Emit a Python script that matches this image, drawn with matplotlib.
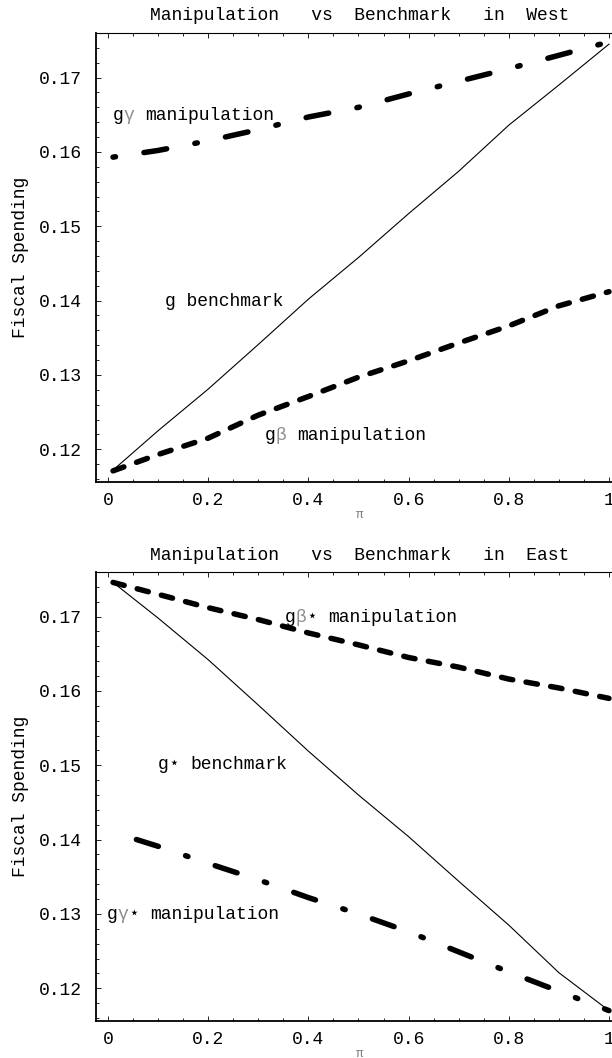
import matplotlib
matplotlib.use("Agg")
import matplotlib.pyplot as plt
from matplotlib.ticker import MultipleLocator

plt.rcParams['font.family'] = ['Liberation Mono', 'DejaVu Sans Mono', 'DejaVu Sans']
plt.rcParams['font.size'] = 13
plt.rcParams['lines.scale_dashes'] = False

FS = 13
PX = 0.72  # points per pixel at dpi 100

# pi values where the curves were read
pi_vals = [0.01, 0.1, 0.2, 0.3, 0.4, 0.5, 0.6, 0.7, 0.8, 0.9, 1.0]

# West
g_bench_w = [0.1172, 0.1225, 0.1281, 0.1341, 0.1402, 0.1458, 0.1517, 0.1574, 0.1636, 0.1690, 0.1745]
g_gamma_w = [0.1593, 0.1602, 0.1615, 0.1630, 0.1647, 0.1660, 0.1678, 0.1695, 0.1712, 0.1730, 0.1748]
g_beta_w = [0.1171, 0.1193, 0.1215, 0.1246, 0.1271, 0.1297, 0.1319, 0.1343, 0.1366, 0.1393, 0.1412]

# East
g_bench_e = [0.1746, 0.1698, 0.1642, 0.1581, 0.1519, 0.1460, 0.1404, 0.1344, 0.1285, 0.1221, 0.1170]
g_gamma_e = [0.1410, 0.1391, 0.1368, 0.1346, 0.1322, 0.1300, 0.1276, 0.1249, 0.1222, 0.1196, 0.1170]
g_beta_e = [0.1746, 0.1730, 0.1712, 0.1696, 0.1678, 0.1662, 0.1645, 0.1632, 0.1616, 0.1604, 0.1590]

titles = ['Manipulation   vs  Benchmark   in  West',
          'Manipulation   vs  Benchmark   in  East']

# text, x, y, {char index: colour}
labels_w = [('gγ manipulation', 0.01, 0.1649, {1: '0.55'}),
            ('g benchmark', 0.114, 0.1399, {}),
            ('gβ manipulation', 0.313, 0.1219, {1: '0.55'})]
labels_e = [('gβ⋆ manipulation', 0.353, 0.1699, {1: '0.55', 2: 'black'}),
            ('g⋆ benchmark', 0.100, 0.1502, {1: 'black'}),
            ('gγ⋆ manipulation', -0.003, 0.1300, {1: '0.55', 2: 'black'})]

LW = 5.5 * PX
dash_on, dot_on, gap = 23 * PX, 2.5 * PX, 28.75 * PX
gamma_w_style = (0, (dot_on, gap, dash_on, gap))
gamma_e_style = (58.5 * PX, (dash_on, gap, dot_on, gap))
beta_style = (0, (11.5 * PX, 13.5 * PX))


def put_label(ax, x, y, text, special):
    # monospaced font: every run of plain chars and every special char
    # is drawn on its own, shifted by whole character cells
    runs = []
    i = 0
    while i < len(text):
        if i in special:
            runs.append((i, text[i], special[i]))
            i += 1
        else:
            j = i
            while j < len(text) and j not in special:
                j += 1
            runs.append((i, text[i:j], 'black'))
            i = j
    for start, chunk, col in runs:
        lead = len(chunk) - len(chunk.lstrip(' '))
        chunk = chunk.strip(' ')
        if not chunk:
            continue
        ax.annotate(chunk, (x, y), xytext=((start + lead) * 0.6 * FS, -3.4),
                    textcoords='offset points', va='baseline', ha='left',
                    color=col)


def style_axes(ax, title):
    ax.set_xlim(-0.024, 1.03)
    ax.set_ylim(0.1156, 0.1760)
    ax.xaxis.set_major_locator(MultipleLocator(0.2))
    ax.xaxis.set_minor_locator(MultipleLocator(0.05))
    ax.yaxis.set_major_locator(MultipleLocator(0.01))
    ax.yaxis.set_minor_locator(MultipleLocator(0.002))
    ax.set_xticks([0, 0.2, 0.4, 0.6, 0.8, 1.0])
    ax.set_xticklabels(['0', '0.2', '0.4', '0.6', '0.8', '1'])
    ax.tick_params(which='both', direction='in', top=True, right=True, width=0.6)
    ax.tick_params(which='major', length=3.6)
    ax.tick_params(which='minor', length=2.2)
    ax.tick_params(axis='x', pad=7)
    ax.tick_params(axis='y', pad=10)
    for s in ['left', 'bottom']:
        ax.spines[s].set_linewidth(1.3)
    ax.spines['top'].set_linewidth(0.8)
    ax.set_title(title, fontsize=FS, pad=9)
    ax.set_ylabel('Fiscal Spending', labelpad=7)
    ax.set_xlabel('π', fontsize=9, color='0.5', labelpad=0)


fig = plt.figure(figsize=(6.12, 10.58), dpi=100)
ax1 = fig.add_axes([96 / 612, 1 - 482 / 1058, 528 / 612, 449 / 1058])
ax2 = fig.add_axes([96 / 612, 1 - 1021 / 1058, 528 / 612, 449 / 1058])

ax1.plot(pi_vals, g_bench_w, color='black', lw=0.8)
ax1.plot(pi_vals, g_gamma_w, color='black', lw=LW, linestyle=gamma_w_style,
         dash_capstyle='round', solid_capstyle='round')
ax1.plot(pi_vals, g_beta_w, color='black', lw=LW, linestyle=beta_style,
         dash_capstyle='round', solid_capstyle='round')
style_axes(ax1, titles[0])
for t, x, y, sp in labels_w:
    put_label(ax1, x, y, t, sp)

ax2.plot(pi_vals, g_bench_e, color='black', lw=0.8)
ax2.plot(pi_vals, g_gamma_e, color='black', lw=LW, linestyle=gamma_e_style,
         dash_capstyle='round', solid_capstyle='round')
ax2.plot(pi_vals, g_beta_e, color='black', lw=LW, linestyle=beta_style,
         dash_capstyle='round', solid_capstyle='round')
style_axes(ax2, titles[1])
for t, x, y, sp in labels_e:
    put_label(ax2, x, y, t, sp)

fig.savefig('out.png', dpi=100)
